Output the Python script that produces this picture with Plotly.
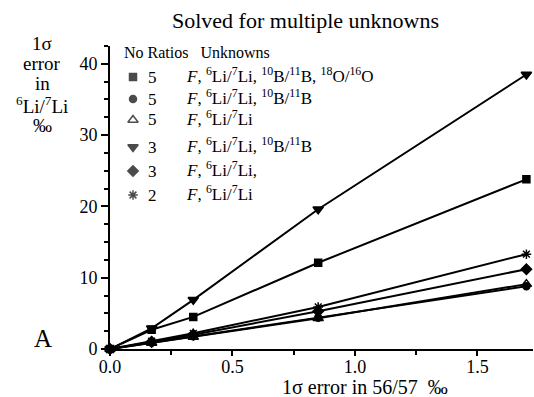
import plotly.graph_objects as go

# ---- data ----
x_err = [0.0, 0.17, 0.34, 0.85, 1.70]
sq_5_F_Li_B_O = [0.0, 2.7, 4.5, 12.1, 23.8]
ci_5_F_Li_B = [0.0, 0.9, 1.8, 4.4, 8.8]
tu_5_F_Li = [0.0, 0.85, 1.7, 4.3, 9.1]
td_3_F_Li_B = [0.0, 2.9, 6.9, 19.6, 38.5]
di_3_F_Li = [0.0, 1.0, 2.0, 5.3, 11.2]
as_2_F_Li = [0.0, 1.1, 2.2, 5.9, 13.3]

series = [
    (sq_5_F_Li_B_O, "square", 7, "5", "<i>F</i>, <sup>6</sup>Li/<sup>7</sup>Li, <sup>10</sup>B/<sup>11</sup>B, <sup>18</sup>O/<sup>16</sup>O"),
    (ci_5_F_Li_B, "circle", 7, "5", "<i>F</i>, <sup>6</sup>Li/<sup>7</sup>Li, <sup>10</sup>B/<sup>11</sup>B"),
    (tu_5_F_Li, "triangle-up-open", 9, "5", "<i>F</i>, <sup>6</sup>Li/<sup>7</sup>Li"),
    (td_3_F_Li_B, "triangle-down", 9, "3", "<i>F</i>, <sup>6</sup>Li/<sup>7</sup>Li, <sup>10</sup>B/<sup>11</sup>B"),
    (di_3_F_Li, "diamond", 8, "3", "<i>F</i>, <sup>6</sup>Li/<sup>7</sup>Li,"),
    (as_2_F_Li, "asterisk-open", 8, "2", "<i>F</i>, <sup>6</sup>Li/<sup>7</sup>Li"),
]

W, H = 534, 397
L, R, T, B = 110, 1, 46, 48
PW, PH = W - L - R, H - T - B

def px(xp):
    return (xp - L) / PW

def py(yp):
    return (H - B - yp) / PH

FONT = "Liberation Serif, Times New Roman, serif"

fig = go.Figure()
for vals, sym, size, n, name in series:
    fig.add_trace(go.Scatter(
        x=x_err, y=vals, mode="lines+markers",
        line=dict(color="black", width=2),
        marker=dict(symbol=sym, size=size, color="black",
                    line=dict(color="black", width=1.5)),
        cliponaxis=False, showlegend=False,
    ))

# custom legend
leg_rows = [77, 99, 120, 147, 171, 195]
fig.add_trace(go.Scatter(
    x=[px(133)] * len(series), y=[py(r) for r in leg_rows],
    xaxis="x2", yaxis="y2", mode="markers",
    marker=dict(symbol=[s[1] for s in series], size=[s[2] for s in series],
                color="black", line=dict(color="black", width=1.5)),
    cliponaxis=False, showlegend=False, hoverinfo="skip",
))

ann = []
ann.append(dict(x=px(122), y=py(52), xref="paper", yref="paper", xanchor="left", yanchor="middle",
                text="No Ratios&nbsp;&nbsp;&nbsp;Unknowns", showarrow=False,
                font=dict(family=FONT, size=16, color="black")))
for (vals, sym, size, n, name), r in zip(series, leg_rows):
    ann.append(dict(x=px(146), y=py(r), xref="paper", yref="paper", xanchor="left", yanchor="middle",
                    text=n, showarrow=False, font=dict(family=FONT, size=17, color="black")))
    ann.append(dict(x=px(184), y=py(r - 2), xref="paper", yref="paper", xanchor="left", yanchor="middle",
                    text=name, showarrow=False, font=dict(family=FONT, size=17, color="black")))

# y-axis title lines
ytitle = ["1σ", "error", "in", "<sup>6</sup>Li/<sup>7</sup>Li", "‰"]
ypos = [44, 63, 84, 105, 125]
for t, yy in zip(ytitle, ypos):
    ann.append(dict(x=px(42), y=py(yy), xref="paper", yref="paper", xanchor="center", yanchor="middle",
                    text=t, showarrow=False, font=dict(family=FONT, size=19, color="black")))

ann.append(dict(x=px(365), y=py(387), xref="paper", yref="paper", xanchor="center", yanchor="middle",
                text="1σ error in 56/57&nbsp;&nbsp;‰", showarrow=False,
                font=dict(family=FONT, size=20, color="black")))
ann.append(dict(x=px(43), y=py(338), xref="paper", yref="paper", xanchor="center", yanchor="middle",
                text="A", showarrow=False, font=dict(family=FONT, size=25, color="black")))
ann.append(dict(x=px(305), y=py(20), xref="paper", yref="paper", xanchor="center", yanchor="middle",
                text="Solved for multiple unknowns", showarrow=False,
                font=dict(family=FONT, size=22, color="black")))

fig.update_layout(
    width=W, height=H,
    margin=dict(l=L, r=R, t=T, b=B, pad=0),
    paper_bgcolor="white", plot_bgcolor="white",
    font=dict(family=FONT, size=18, color="black"),
    annotations=ann,
    xaxis=dict(range=[0, 1.727], tickvals=[0, 0.5, 1.0, 1.5], ticktext=["0.0", "0.5", "1.0", "1.5"],
               showgrid=False, zeroline=False, showline=True, linecolor="black", linewidth=2,
               ticks="outside", ticklen=5, tickwidth=1.5, tickcolor="black", ticklabelstandoff=-5,
               tickfont=dict(family=FONT, size=18),
               minor=dict(tickvals=[0.25, 0.75, 1.25], ticks="outside", ticklen=4, tickwidth=1.5, tickcolor="black")),
    yaxis=dict(range=[0, 42.5], tickvals=[0, 10, 20, 30, 40],
               showgrid=False, zeroline=False, showline=True, linecolor="black", linewidth=2,
               ticks="outside", ticklen=7, tickwidth=1.5, tickcolor="black",
               tickfont=dict(family=FONT, size=18),
               minor=dict(dtick=2.5, tick0=0, ticks="outside", ticklen=4, tickwidth=1.5, tickcolor="black")),
    xaxis2=dict(range=[0, 1], overlaying="x", visible=False, fixedrange=True),
    yaxis2=dict(range=[0, 1], overlaying="y", visible=False, fixedrange=True),
)

fig.write_html("out.html")
